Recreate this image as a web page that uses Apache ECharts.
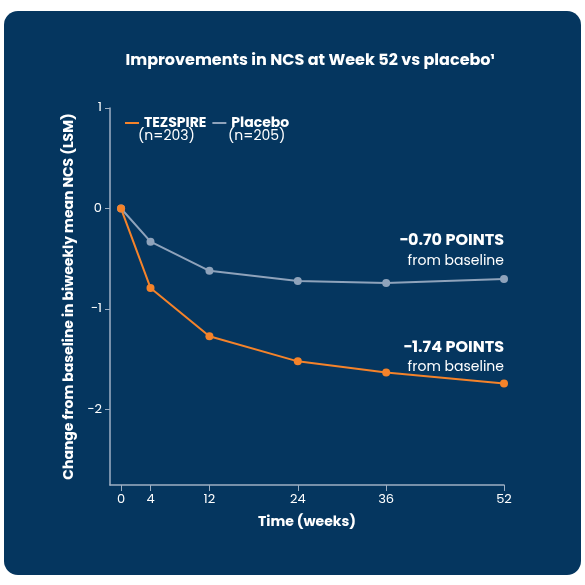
<!DOCTYPE html>
<html>
<head>
<meta charset="utf-8">
<script src="https://cdn.jsdelivr.net/npm/echarts@6/dist/echarts.min.js"></script>
<style>
  html, body { margin: 0; padding: 0; background: #ffffff; }
  #chart-container { width: 585px; height: 585px; }
</style>
</head>
<body>
<div id="chart-container"></div>
<script>
var weeks = [0, 4, 12, 24, 36, 52];
var tezspire = [0, -0.79, -1.27, -1.52, -1.63, -1.74];
var placebo = [0, -0.33, -0.62, -0.72, -0.74, -0.70];
var yTicks = [1, 0, -1, -2];

var dom = document.getElementById('chart-container');
var myChart = echarts.init(dom, null, { renderer: 'canvas' });

var font = 'Poppins, "Open Sans", sans-serif';
var axisColor = '#9fb0c4';

function pairs(vals) {
  return weeks.map(function (w, i) { return [w, vals[i]]; });
}

var option = {
  backgroundColor: '#ffffff',
  graphic: [{
    type: 'rect',
    shape: { x: 4, y: 11, width: 577, height: 564, r: 14 },
    style: { fill: '#05365f' },
    z: -10
  }, {
    type: 'text', x: 310, y: 53,
    style: { text: 'Improvements in NCS at Week 52 vs placebo¹', fill: '#fff', font: 'bold 16px ' + font, align: 'center' }
  }, {
    type: 'text', x: 504, y: 233,
    style: { text: '\u22120.70 POINTS', fill: '#fff', font: 'bold 16px ' + font, align: 'right' }
  }, {
    type: 'text', x: 504, y: 254,
    style: { text: 'from baseline', fill: '#fff', font: '14px ' + font, align: 'right' }
  }, {
    type: 'text', x: 504, y: 340,
    style: { text: '\u22121.74 POINTS', fill: '#fff', font: 'bold 16px ' + font, align: 'right' }
  }, {
    type: 'text', x: 504, y: 360,
    style: { text: 'from baseline', fill: '#fff', font: '14px ' + font, align: 'right' }
  }, {
    type: 'text', x: 138, y: 129,
    style: { text: '(n=203)', fill: '#fff', font: '14px ' + font }
  }, {
    type: 'text', x: 228, y: 129,
    style: { text: '(n=205)', fill: '#fff', font: '14px ' + font }
  }],
  legend: {
    left: 120, top: 111, itemWidth: 14, itemHeight: 2, itemGap: 6,
    icon: 'rect',
    textStyle: { color: '#fff', fontFamily: font, fontWeight: 'bold', fontSize: 14 },
    data: ['TEZSPIRE', 'Placebo']
  },
  grid: { left: 110, right: 81, top: 108, bottom: 100 },
  xAxis: {
    type: 'value', min: -1.5, max: 52,
    name: 'Time (weeks)', nameLocation: 'middle', nameGap: 30,
    nameTextStyle: { color: '#fff', fontFamily: font, fontWeight: 'bold', fontSize: 14 },
    axisLine: { onZero: false, lineStyle: { color: axisColor, width: 1.5 } },
    axisTick: { show: true, customValues: weeks, length: 6, lineStyle: { color: axisColor } },
    axisLabel: { customValues: weeks, color: '#fff', fontFamily: font, fontSize: 13 },
    splitLine: { show: false }
  },
  yAxis: {
    type: 'value', min: -2.75, max: 1,
    name: 'Change from baseline in biweekly mean NCS (LSM)', nameLocation: 'middle', nameGap: 34,
    nameTextStyle: { color: '#fff', fontFamily: font, fontWeight: 'bold', fontSize: 14 },
    axisLine: { show: true, onZero: false, lineStyle: { color: axisColor, width: 1.5 } },
    axisTick: { show: true, customValues: yTicks, length: 5, lineStyle: { color: axisColor } },
    axisLabel: {
      customValues: yTicks, color: '#fff', fontFamily: font, fontSize: 13,
      formatter: function (v) { return v < 0 ? '\u2212' + (-v) : String(v); }
    },
    splitLine: { show: false }
  },
  series: [{
    name: 'Placebo', type: 'line', data: pairs(placebo),
    symbol: 'circle', symbolSize: 8,
    lineStyle: { color: '#8fa3bb', width: 2 },
    itemStyle: { color: '#8fa3bb' }
  }, {
    name: 'TEZSPIRE', type: 'line', data: pairs(tezspire),
    symbol: 'circle', symbolSize: 8,
    lineStyle: { color: '#f5832a', width: 2 },
    itemStyle: { color: '#f5832a' }
  }]
};

myChart.setOption(option);
</script>
</body>
</html>
